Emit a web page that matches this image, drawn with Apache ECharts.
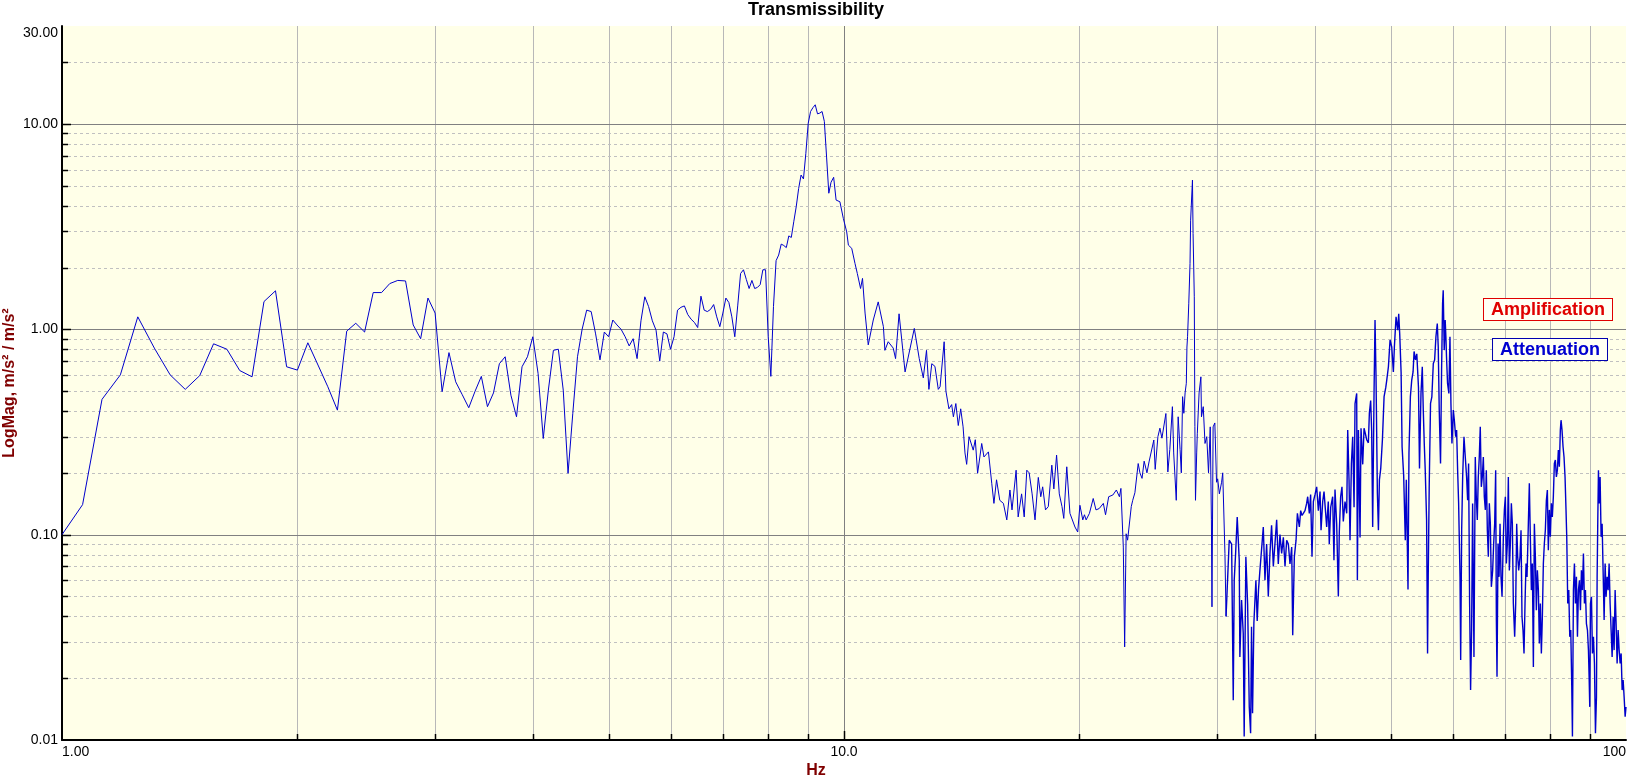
<!DOCTYPE html>
<html><head><meta charset="utf-8">
<script src="https://cdn.jsdelivr.net/npm/echarts@6/dist/echarts.min.js"></script>
<style>html,body{margin:0;padding:0;background:#fff}#c{width:1632px;height:778px}</style>
</head><body><div id="c"></div>
<script>
// Transmissibility magnitude [Hz, m/s² / m/s²]
const lowBand = [[1.0,0.10],[1.0625,0.14],[1.125,0.456],[1.1875,0.60],[1.25,1.15],[1.3125,0.81],[1.375,0.60],[1.4375,0.51],[1.5,0.595],[1.5625,0.85],[1.625,0.80],[1.6875,0.63],[1.75,0.587],[1.8125,1.365],[1.875,1.54],[1.9375,0.657],[2.0,0.633],[2.0625,0.86],[2.125,0.67],[2.1875,0.525],[2.25,0.404],[2.3125,0.98],[2.375,1.07],[2.4375,0.97],[2.5,1.51],[2.5625,1.51],[2.625,1.67],[2.6875,1.73],[2.75,1.72],[2.8125,1.05],[2.875,0.90],[2.9375,1.42],[3.0,1.20],[3.0625,0.497],[3.125,0.77],[3.1875,0.555],[3.25,0.48],[3.3125,0.415],[3.375,0.50],[3.4375,0.59],[3.5,0.42],[3.5625,0.49],[3.625,0.68],[3.6875,0.735],[3.75,0.478],[3.8125,0.375],[3.875,0.657],[3.9375,0.735],[4.0,0.92],[4.0625,0.61],[4.125,0.294],[4.1875,0.506],[4.25,0.79],[4.3125,0.80],[4.375,0.506],[4.4375,0.199],[4.5,0.39],[4.5625,0.735],[4.625,1.0],[4.6875,1.24],[4.75,1.22],[4.8125,0.95],[4.875,0.71],[4.9375,0.97],[5.0,0.92],[5.0625,1.11],[5.125,1.05],[5.1875,1.0],[5.25,0.92],[5.3125,0.83],[5.375,0.90],[5.4375,0.72],[5.5,1.1],[5.5625,1.44],[5.625,1.29],[5.6875,1.1],[5.75,0.99],[5.8125,0.70],[5.875,0.97],[5.9375,0.95],[6.0,0.80],[6.0625,0.92],[6.125,1.24],[6.1875,1.28],[6.25,1.30],[6.3125,1.18],[6.375,1.12],[6.4375,1.08],[6.5,1.02],[6.5625,1.45],[6.625,1.24],[6.6875,1.22],[6.75,1.25],[6.8125,1.32],[6.875,1.15],[6.9375,1.03],[7.0,1.2],[7.0625,1.42],[7.125,1.35],[7.1875,1.15],[7.25,0.92],[7.3125,1.3],[7.375,1.87],[7.4375,1.95],[7.5,1.75],[7.5625,1.58],[7.625,1.73],[7.6875,1.58],[7.75,1.6],[7.8125,1.65],[7.875,1.95],[7.9375,1.95],[8.0,0.92],[8.0625,0.59],[8.125,1.29],[8.1875,2.16],[8.25,2.3],[8.3125,2.6],[8.375,2.56],[8.4375,2.5],[8.5,2.85],[8.5625,2.8],[8.625,3.34],[8.6875,3.95],[8.75,4.85],[8.8125,5.64],[8.875,5.4],[8.9375,7.2],[9.0,10.07],[9.0625,11.5],[9.125,12.0],[9.1875,12.4],[9.25,11.2],[9.3125,11.3],[9.375,11.5],[9.4375,10.3],[9.5,6.9],[9.5625,4.6],[9.625,5.2],[9.7,5.5],[9.77,4.26],[9.88,4.18],[9.98,3.47]];

const midBand = [[10.08,2.98],[10.13,2.57],[10.23,2.48],[10.33,2.09],[10.4,1.87],[10.5,1.58],[10.56,1.77],[10.64,1.20],[10.74,0.84],[10.9,1.11],[11.06,1.36],[11.23,1.03],[11.28,0.79],[11.39,0.87],[11.56,0.81],[11.64,0.72],[11.76,1.19],[11.82,1.19],[11.97,0.62],[12.3,1.01],[12.48,0.72],[12.63,0.58],[12.75,0.79],[12.84,0.51],[12.95,0.68],[13.07,0.66],[13.2,0.51],[13.27,0.525],[13.43,0.87],[13.5,0.50],[13.62,0.41],[13.73,0.43],[13.8,0.375],[13.9,0.435],[14.0,0.34],[14.1,0.41],[14.2,0.335],[14.28,0.25],[14.35,0.22],[14.45,0.30],[14.63,0.258],[14.72,0.29],[14.82,0.199],[15.0,0.278],[15.1,0.239],[15.3,0.253],[15.45,0.178],[15.55,0.142],[15.67,0.185],[15.82,0.147],[15.99,0.142],[16.15,0.118],[16.3,0.165],[16.4,0.132],[16.6,0.206],[16.7,0.122],[16.87,0.158],[17.0,0.122],[17.13,0.206],[17.25,0.20],[17.4,0.158],[17.55,0.118],[17.72,0.19],[17.85,0.153],[17.95,0.171],[18.1,0.132],[18.25,0.137],[18.44,0.218],[18.55,0.167],[18.7,0.244],[18.85,0.158],[19.0,0.137],[19.1,0.12],[19.27,0.214],[19.45,0.127],[19.74,0.109],[19.9,0.103],[20.03,0.139],[20.2,0.118],[20.3,0.125],[20.4,0.118],[20.6,0.127],[20.83,0.150],[21.0,0.132],[21.2,0.134],[21.46,0.142],[21.6,0.125],[21.8,0.153],[22.07,0.156],[22.3,0.165],[22.5,0.153],[22.6,0.168],[22.76,0.087],[22.85,0.0284],[22.95,0.101],[23.05,0.094],[23.3,0.137],[23.4,0.147],[23.55,0.16],[23.78,0.222],[23.9,0.20],[24.05,0.188],[24.2,0.228],[24.4,0.20],[24.55,0.226],[24.9,0.289],[25.0,0.208],[25.2,0.30],[25.35,0.33],[25.5,0.295],[25.8,0.389],[25.95,0.202],[26.1,0.26],[26.3,0.42],[26.4,0.25],[26.6,0.147],[26.75,0.375],[26.9,0.26],[27.0,0.2],[27.1,0.47],[27.2,0.39],[27.3,0.49],[27.4,0.546],[27.45,0.82],[27.5,0.92],[27.6,1.34],[27.7,2.09],[27.75,3.4],[27.9,5.33],[27.95,2.93],[28.05,1.44],[28.1,0.336],[28.15,0.147],[28.25,0.25],[28.3,0.31],[28.45,0.49],[28.6,0.587],[28.65,0.375],[28.8,0.42],[28.95,0.278],[29.1,0.30],[29.25,0.2],[29.4,0.335],[29.5,0.118],[29.55,0.0445],[29.65,0.335],[29.8,0.35],[29.95,0.18],[30.05,0.187],[30.2,0.158],[30.4,0.18],[30.5,0.2],[30.7,0.081],[30.8,0.04]];

const highBandA = [[30.8,0.04],[31.09,0.094],[31.31,0.09],[31.46,0.0156],[31.55,0.06],[31.68,0.081],[31.83,0.122],[32.02,0.075],[32.08,0.0254],[32.24,0.048],[32.40,0.033],[32.49,0.0104],[32.65,0.078],[32.82,0.046],[32.98,0.0145],[33.11,0.0108],[33.20,0.0356],[33.30,0.0135],[33.43,0.037],[33.63,0.06],[33.76,0.038],[33.89,0.054],[34.03,0.067],[34.19,0.084],[34.37,0.109],[34.54,0.06],[34.71,0.09],[34.88,0.05],[35.05,0.081],[35.22,0.111],[35.40,0.07],[35.57,0.09],[35.75,0.118],[35.92,0.072],[36.10,0.1],[36.28,0.081],[36.46,0.097],[36.64,0.07],[36.82,0.094],[37.00,0.09],[37.18,0.072],[37.37,0.087],[37.48,0.0324],[37.66,0.078],[37.85,0.094],[38.00,0.127],[38.22,0.109],[38.37,0.131],[38.52,0.124],[38.67,0.127],[38.86,0.131],[39.05,0.142],[39.17,0.153],[39.36,0.127],[39.51,0.157],[39.67,0.078],[39.83,0.145],[40.03,0.157],[40.22,0.171],[40.42,0.131],[40.62,0.162],[40.74,0.105],[40.94,0.145],[41.10,0.162],[41.30,0.127],[41.42,0.109],[41.62,0.145],[41.74,0.09],[41.92,0.136],[42.16,0.153],[42.32,0.075],[42.45,0.166],[42.66,0.113],[42.87,0.05],[42.99,0.103],[43.16,0.153],[43.33,0.171],[43.50,0.116],[43.72,0.145],[43.94,0.127],[44.07,0.323],[44.24,0.185],[44.37,0.094],[44.55,0.222],[44.72,0.30],[44.90,0.136],[45.03,0.435],[45.25,0.487],[45.34,0.06],[45.48,0.323],[45.70,0.097],[45.83,0.33],[46.06,0.22],[46.24,0.33],[46.42,0.31],[46.60,0.29],[46.83,0.28],[46.97,0.39],[47.15,0.45],[47.29,0.32],[47.43,0.109],[47.62,0.487],[47.76,1.11],[47.90,0.587],[48.09,0.16],[48.24,0.105],[48.38,0.185],[48.57,0.21],[48.81,0.29],[49.05,0.47],[49.29,0.52],[49.44,0.566],[49.68,0.657],[49.92,0.887],[50.17,0.82],[50.41,0.62],[50.56,0.82],[50.81,1.15],[51.06,0.99],[51.21,1.19],[51.36,0.95],[51.57,0.62],[51.72,0.268],[51.96,0.195],[52.21,0.094],[52.37,0.185],[52.63,0.054],[52.78,0.25],[53.00,0.47],[53.21,0.566],[53.42,0.62],[53.58,0.78],[53.80,0.71],[54.01,0.76],[54.28,0.52],[54.44,0.21]];

const highBandB = [[54.68,0.487],[54.89,0.657],[55.05,0.404],[55.21,0.278],[55.37,0.206],[55.59,0.118],[55.75,0.0264],[55.86,0.0623],[56.02,0.171],[56.24,0.436],[56.46,0.469],[56.70,0.682],[56.92,0.708],[57.14,0.92],[57.37,1.068],[57.53,0.822],[57.70,0.404],[57.92,0.222],[58.10,0.633],[58.27,1.337],[58.38,1.55],[58.55,0.792],[58.72,1.109],[58.84,0.92],[58.95,0.735],[59.13,0.545],[59.36,0.487],[59.55,0.92],[59.72,0.436],[59.90,0.278],[60.14,0.404],[60.32,0.361],[60.56,0.30],[60.73,0.323],[60.91,0.206],[61.09,0.142],[61.34,0.0623],[61.46,0.0245],[61.64,0.105],[61.82,0.191],[62.06,0.30],[62.30,0.239],[62.54,0.191],[62.73,0.147],[62.91,0.222],[63.10,0.0462],[63.28,0.0175],[63.47,0.0343],[63.66,0.142],[63.91,0.0254],[64.16,0.239],[64.35,0.153],[64.54,0.118],[64.73,0.191],[64.92,0.239],[65.11,0.335],[65.31,0.171],[65.50,0.191],[65.70,0.239],[65.89,0.153],[66.09,0.132],[66.28,0.206],[66.48,0.105],[66.67,0.078],[66.87,0.142],[67.07,0.113],[67.27,0.0557],[67.53,0.067],[67.73,0.0906],[67.93,0.113],[68.13,0.206],[68.27,0.0384],[68.40,0.0203],[68.61,0.0906],[68.81,0.0623],[69.01,0.113],[69.21,0.0623],[69.42,0.0498],[69.69,0.0976],[69.90,0.132],[70.10,0.153],[70.31,0.0724],[70.52,0.0906],[70.72,0.191],[70.93,0.067],[71.14,0.0906],[71.35,0.142],[71.56,0.113],[71.77,0.0462],[72.05,0.0318],[72.27,0.0462],[72.48,0.113],[72.69,0.078],[72.91,0.067],[73.19,0.078],[73.41,0.105],[73.62,0.0398],[73.84,0.0343],[74.06,0.0264],[74.28,0.0462],[74.50,0.0724],[74.72,0.0623],[75.01,0.113],[75.23,0.178],[75.45,0.0976],[75.68,0.0537],[75.90,0.0724],[76.13,0.0227],[76.35,0.113],[76.58,0.078],[76.80,0.0429],[77.03,0.067],[77.26,0.0537],[77.48,0.0295],[77.71,0.0462],[77.94,0.0264],[78.17,0.0398],[78.40,0.0724],[78.63,0.0906],[78.86,0.105],[79.10,0.147],[79.33,0.165],[79.56,0.084],[79.80,0.132],[80.03,0.0976],[80.27,0.142],[80.50,0.122],[80.74,0.153],[80.98,0.222],[81.22,0.231],[81.46,0.191],[81.70,0.206],[81.94,0.258],[82.18,0.214],[82.42,0.323],[82.59,0.361],[82.83,0.323],[83.08,0.268],[83.32,0.239],[83.57,0.191],[83.81,0.132],[83.99,0.0976],[84.24,0.0462],[84.49,0.0537],[84.74,0.0318],[84.99,0.0343],[85.24,0.0182],[85.41,0.0104],[85.66,0.0537],[85.91,0.0724],[86.17,0.0462],[86.42,0.0623],[86.68,0.0318],[86.93,0.0537],[87.19,0.060],[87.45,0.0429],[87.70,0.067],[87.96,0.0537],[88.22,0.081],[88.48,0.0462],[88.74,0.0537],[89.00,0.0369],[89.27,0.0343],[89.53,0.0274],[89.71,0.0203],[89.88,0.0145],[90.06,0.0462],[90.33,0.0498],[90.59,0.0264],[90.86,0.0318],[91.13,0.0236],[91.40,0.0108],[91.67,0.0162],[91.85,0.0623],[92.03,0.118],[92.21,0.206],[92.39,0.142],[92.66,0.191],[92.93,0.0976],[93.21,0.113],[93.48,0.067],[93.76,0.0384],[94.04,0.0724],[94.31,0.0498],[94.59,0.0623],[94.87,0.0537],[95.15,0.0724],[95.43,0.0462],[95.71,0.0343],[96.00,0.0254],[96.28,0.0398],[96.56,0.0274],[96.85,0.0537],[97.13,0.0369],[97.42,0.0236],[97.71,0.0343],[98.00,0.0274],[98.29,0.0236],[98.58,0.0264],[98.87,0.0175],[99.16,0.0196],[99.45,0.0162],[99.75,0.013],[100.0,0.0145]];

// Axis ranges and grid/tick values
const X_MIN = 1, X_MAX = 100, Y_MIN = 0.01, Y_MAX = 30;
const xMinorGrid = [2,3,4,5,6,7,8,9,20,30,40,50,60,70,80,90];
const xMajorGrid = [10];
const yMajorGrid = [0.1,1,10];
const yMinorGrid = [0.02,0.03,0.04,0.05,0.06,0.07,0.08,0.09,0.2,0.3,0.4,0.5,0.6,0.7,0.8,0.9,2,3,4,5,6,7,8,9,20];

const FONT = '"Liberation Sans", Arial, sans-serif';
const LINE_COLOR = '#0000CC';
const sparsePart = lowBand.concat(midBand);
const densePart = highBandA.concat(highBandB);

function vGrid(color, width, dash) {
  return function (params, api) {
    const x = api.value(0);
    const a = api.coord([x, Y_MIN]), b = api.coord([x, Y_MAX]);
    const px = Math.round(a[0]) + 0.5;
    return {type: 'line', silent: true, shape: {x1: px, y1: a[1], x2: px, y2: b[1]},
      style: {stroke: color, lineWidth: width, lineDash: dash || null}};
  };
}
function hGrid(color, width, dash) {
  return function (params, api) {
    const y = api.value(1);
    const a = api.coord([X_MIN, y]), b = api.coord([X_MAX, y]);
    const py = Math.round(a[1]) + 0.5;
    return {type: 'line', silent: true, shape: {x1: a[0], y1: py, x2: b[0], y2: py},
      style: {stroke: color, lineWidth: width, lineDash: dash || null}};
  };
}
function xTick(len) {
  return function (params, api) {
    const a = api.coord([api.value(0), Y_MIN]);
    const px = Math.round(a[0]) + 0.5;
    return {type: 'line', silent: true, shape: {x1: px, y1: a[1], x2: px, y2: a[1] - len},
      style: {stroke: '#000', lineWidth: 1.5}};
  };
}
function yTick(len) {
  return function (params, api) {
    const a = api.coord([X_MIN, api.value(1)]);
    const py = Math.round(a[1]) + 0.5;
    return {type: 'line', silent: true, shape: {x1: a[0], y1: py, x2: a[0] + len, y2: py},
      style: {stroke: '#000', lineWidth: 1.5}};
  };
}
function custom(data, fn, z) {
  return {type: 'custom', renderItem: fn, data: data, encode: {x: 0, y: 1}, z: z, silent: true, animation: false, clip: false};
}
function trace(data, width) {
  return {type: 'line', data: data, showSymbol: false, symbol: 'none', z: 3,
    lineStyle: {color: LINE_COLOR, width: width}, itemStyle: {color: LINE_COLOR},
    clip: true, animation: false, sampling: null};
}

const chart = echarts.init(document.getElementById('c'), null, {renderer: 'canvas'});
chart.setOption({
  animation: false,
  backgroundColor: '#ffffff',
  title: [
    {text: 'Transmissibility', left: 'center', top: -4,
      textStyle: {fontSize: 18, fontWeight: 'bold', color: '#000', fontFamily: FONT}},
    {text: 'Hz', left: 'center', top: 758,
      textStyle: {fontSize: 16, fontWeight: 'bold', color: '#800000', fontFamily: FONT}}
  ],
  grid: {left: 62, top: 26, right: 6, bottom: 38, show: true, backgroundColor: '#FFFFE8', borderWidth: 0,
    containLabel: false, outerBoundsMode: 'none'},
  xAxis: {
    type: 'log', logBase: 10, min: X_MIN, max: X_MAX,
    axisLine: {show: true, lineStyle: {color: '#000', width: 2}},
    axisTick: {show: false},
    splitLine: {show: false},
    axisLabel: {
      color: '#000', fontSize: 14, fontFamily: FONT, margin: 5,
      alignMinLabel: 'left', alignMaxLabel: 'right', showMinLabel: true, showMaxLabel: true,
      formatter: function (v) {
        if (Math.abs(v - 1) < 1e-6) return '1.00';
        if (Math.abs(v - 10) < 1e-6) return '10.0';
        if (Math.abs(v - 100) < 1e-6) return '100';
        return '';
      }
    }
  },
  yAxis: {
    type: 'log', logBase: 10, min: Y_MIN, max: Y_MAX,
    name: 'LogMag, m/s² / m/s²', nameLocation: 'middle', nameGap: 44, nameMoveOverlap: false,
    nameTextStyle: {color: '#800000', fontWeight: 'bold', fontSize: 16, fontFamily: FONT},
    axisLine: {show: true, lineStyle: {color: '#000', width: 2}},
    axisTick: {show: false},
    splitLine: {show: false},
    axisLabel: {
      color: '#000', fontSize: 14, fontFamily: FONT, margin: 4,
      showMinLabel: true, showMaxLabel: true, verticalAlignMaxLabel: 'top',
      formatter: function (v) { return Number(v).toFixed(2); }
    }
  },
  series: [
    custom(xMinorGrid.map(v => [v, Y_MIN]), vGrid('#B8B8B8', 1), 1),
    custom(xMajorGrid.map(v => [v, Y_MIN]), vGrid('#808080', 1), 1),
    custom(yMinorGrid.map(v => [X_MIN, v]), hGrid('#C0C0C0', 1, [3, 3]), 1),
    custom(yMajorGrid.map(v => [X_MIN, v]), hGrid('#808080', 1), 1),
    trace(sparsePart, 1),
    trace(densePart, 1.4),
    custom(xMinorGrid.map(v => [v, Y_MIN]), xTick(6), 5),
    custom(xMajorGrid.map(v => [v, Y_MIN]), xTick(9), 5),
    custom(yMinorGrid.map(v => [X_MIN, v]), yTick(6), 5),
    custom(yMajorGrid.map(v => [X_MIN, v]), yTick(9), 5)
  ],
  graphic: [
    {type: 'text', right: 19, top: 298, z: 100,
      style: {text: 'Amplification', fill: '#E00000', font: 'bold 18px ' + FONT,
        backgroundColor: '#FFFFF4', borderColor: '#E00000', borderWidth: 1, padding: [2, 7, 1, 7]}},
    {type: 'text', right: 24, top: 338, z: 100,
      style: {text: 'Attenuation', fill: '#0000D0', font: 'bold 18px ' + FONT,
        backgroundColor: '#FFFFF4', borderColor: '#0000B0', borderWidth: 1, padding: [2, 7, 1, 7]}}
  ]
});
</script>
</body></html>
